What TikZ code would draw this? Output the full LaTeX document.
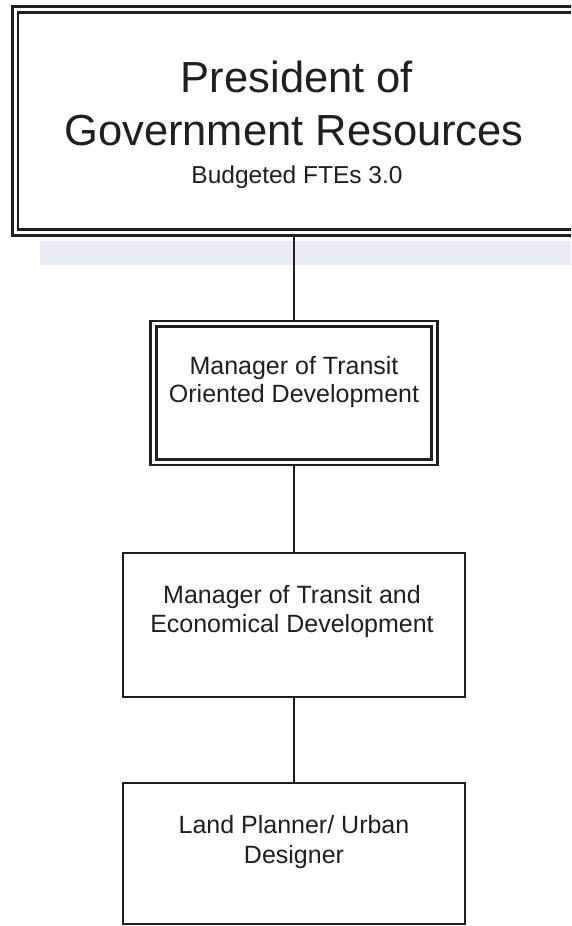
\documentclass[tikz,border=0pt]{standalone}
\usepackage{fontspec}
\setmainfont{Liberation Sans}
\definecolor{ink}{gray}{0.12}
\definecolor{scanblue}{RGB}{214,224,240}
\begin{document}
\begin{tikzpicture}[x=1pt,y=-1pt,
  boxline/.style={draw=ink, line width=2.5pt, inner sep=0pt, outer sep=1.25pt},
  dbl/.style={draw=ink, line width=2.6pt, double=white, double distance=3pt, inner sep=0pt, outer sep=4.1pt},
  conn/.style={draw=ink, line width=2.4pt},
  big/.style={font=\fontsize{43.5}{52}\selectfont, anchor=base, inner sep=0pt, text=ink},
  subt/.style={font=\fontsize{24.5}{29}\selectfont, anchor=base, inner sep=0pt, text=ink},
  lbl/.style={font=\fontsize{25}{29}\selectfont, anchor=base, inner sep=0pt, text=ink}]
\useasboundingbox (0,0) rectangle (571,926);
\clip (0,0) rectangle (571,926);
\fill[white] (0,0) rectangle (571,926);
% faint scan band
\fill[scanblue, opacity=0.55] (40,241) rectangle (571,265);
% boxes
\node[dbl, minimum width=562pt, minimum height=223pt] (pres) at (296,121) {};
\node[dbl, minimum width=281pt, minimum height=138.5pt] (todm) at (294,393) {};
\node[boxline, minimum width=342pt, minimum height=144pt] (ted) at (294,625) {};
\node[boxline, minimum width=342pt, minimum height=141pt] (lpud) at (294,853.5) {};
% texts
\node[big] (p1) at (297,92) {President of};
\node[big] (p2) at (294,145) {Government Resources};
\node[subt] (p3) at (297,183) {Budgeted FTEs 3.0};
\node[lbl] (t1) at (294,374) {Manager of Transit};
\node[lbl] (t2) at (294,402) {Oriented Development};
\node[lbl] (e1) at (292,603) {Manager of Transit and};
\node[lbl] (e2) at (292,632) {Economical Development};
\node[lbl] (l1) at (294,833) {Land Planner/ Urban};
\node[lbl] (l2) at (294,863) {Designer};
% connectors
\draw[conn] (todm.north) -- (todm.north |- pres.south);
\draw[conn] (todm.south) -- (ted.north);
\draw[conn] (ted.south) -- (lpud.north);
\end{tikzpicture}
\end{document}
